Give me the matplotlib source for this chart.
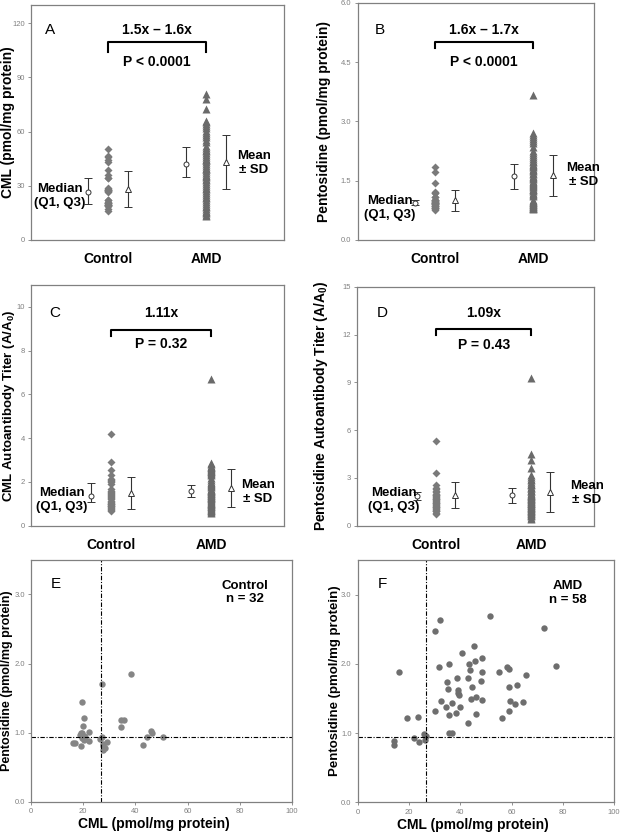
import matplotlib
matplotlib.use("Agg")
import matplotlib.pyplot as plt
import matplotlib.transforms as mtransforms

plt.rcParams['font.family'] = ['Liberation Sans', 'DejaVu Sans']
plt.rcParams['mathtext.fontset'] = 'custom'
plt.rcParams['mathtext.rm'] = 'Liberation Sans:bold'

groups = ['Control', 'AMD']

# E / F scatter: CML vs pentosidine per subject
ctrl_cml = [38.5, 27.1, 19.4, 20.3, 20.0, 22.1, 19.5, 18.8, 20.2, 19.6, 20.4, 22.1,
            16.2, 16.9, 19.3, 26.4, 27.2, 29.0, 27.6, 27.4, 27.6, 34.4, 35.8, 34.4,
            46.1, 46.4, 44.3, 42.9, 50.6, 19.0, 28.3, 20.8]
ctrl_pent = [1.85, 1.71, 1.44, 1.21, 1.10, 1.01, 1.00, 0.97, 0.95, 0.92, 0.90, 0.88,
             0.85, 0.85, 0.81, 0.91, 0.94, 0.86, 0.83, 0.80, 0.75, 1.18, 1.18, 1.08,
             1.02, 0.99, 0.93, 0.82, 0.93, 0.99, 0.78, 0.93]
amd_cml = [16.1, 19.4, 23.7, 22.0, 23.9, 14.3, 14.2, 25.9, 26.3, 30.3, 31.9, 31.7,
           30.0, 32.5, 34.3, 35.5, 35.0, 35.2, 35.5, 35.8, 36.8, 36.7, 38.2, 38.8,
           39.0, 39.1, 39.4, 40.0, 40.7, 42.9, 43.3, 43.0, 43.9, 44.3, 44.7, 45.3,
           45.8, 46.0, 46.3, 48.4, 48.2, 48.5, 48.4, 51.6, 55.1, 56.2, 58.1, 58.9,
           59.2, 59.0, 59.4, 61.4, 62.3, 64.4, 65.5, 72.7, 77.4, 26.5]
amd_pent = [1.88, 1.22, 1.23, 0.93, 0.87, 0.89, 0.82, 0.99, 0.90, 2.47, 2.63, 1.96,
            1.32, 1.46, 1.38, 2.00, 1.74, 1.63, 1.26, 1.00, 1.00, 1.43, 1.29, 1.80,
            1.62, 1.58, 1.55, 1.37, 2.16, 1.80, 1.99, 1.15, 1.91, 1.49, 1.67, 2.25,
            2.04, 1.27, 1.52, 2.08, 1.75, 1.88, 1.47, 2.69, 1.88, 1.21, 1.95, 1.92,
            1.67, 1.32, 1.46, 1.42, 1.70, 1.45, 1.84, 2.52, 1.97, 0.95]

# A / B dot columns
cml_ctrl = ctrl_cml
cml_amd = [81, 78, 72.5, 66, 65, 64, 63, 62, 60.5, 59, 58, 57, 55.5, 54, 52, 51, 50,
           49, 48, 47, 46, 45, 44.5, 44, 43, 42, 41, 40, 39.5, 39, 38, 37, 36, 35.5,
           35, 34, 33, 32, 31, 30, 29, 28, 27, 26, 25, 24, 23, 22, 21, 20, 19, 18,
           17, 16, 15.5, 15, 14, 13.5]
pent_ctrl = ctrl_pent
pent_amd = [3.68, 2.7, 2.65, 2.6, 2.55, 2.5, 2.45, 2.35, 2.25, 2.2, 2.15, 2.1, 2.05,
            2.0, 1.97, 1.93, 1.9, 1.88, 1.85, 1.8, 1.77, 1.74, 1.7, 1.67, 1.63, 1.6,
            1.57, 1.54, 1.5, 1.47, 1.45, 1.42, 1.4, 1.37, 1.34, 1.3, 1.28, 1.26, 1.23,
            1.2, 1.17, 1.15, 1.12, 1.0, 0.98, 0.97, 0.95, 0.93, 0.92, 0.9, 0.88, 0.87,
            0.85, 0.83, 0.82, 0.8, 0.8, 0.79]

# C / D autoantibody titers
cml_ab_ctrl = [4.2, 2.9, 2.55, 2.3, 2.15, 2.05, 2.0, 1.9, 1.7, 1.6, 1.5, 1.45, 1.4,
               1.3, 1.25, 1.2, 1.15, 1.1, 1.05, 1.0, 0.95, 0.9, 0.85, 0.8, 0.75, 0.7,
               0.65, 1.35, 1.55, 1.0, 0.9, 2.1]
cml_ab_amd = [6.7, 2.85, 2.8, 2.75, 2.7, 2.65, 2.6, 2.55, 2.5, 2.45, 2.4, 2.3, 2.2,
              2.1, 2.0, 1.95, 1.9, 1.85, 1.8, 1.75, 1.7, 1.65, 1.6, 1.55, 1.5, 1.45,
              1.4, 1.35, 1.3, 1.25, 1.2, 1.15, 1.1, 1.05, 1.0, 0.95, 0.9, 0.85, 0.8,
              0.75, 0.7, 0.65, 0.6, 1.62, 1.48, 1.33, 1.18, 1.02, 0.88, 0.72, 2.52,
              2.35, 1.58, 1.42, 1.28, 0.98, 0.62, 2.68]
pent_ab_ctrl = [5.3, 3.3, 2.55, 2.4, 2.2, 2.1, 2.0, 1.9, 1.85, 1.8, 1.7, 1.6, 1.55,
                1.5, 1.4, 1.3, 1.2, 1.1, 1.0, 0.9, 0.8, 0.75, 2.3, 1.95, 1.75, 1.65,
                1.45, 1.35, 1.25, 1.15, 1.05, 0.95]
pent_ab_amd = [9.3, 4.5, 4.1, 3.65, 3.2, 3.05, 2.95, 2.85, 2.75, 2.65, 2.55, 2.45,
               2.35, 2.25, 2.15, 2.05, 2.0, 1.95, 1.9, 1.85, 1.8, 1.75, 1.7, 1.65,
               1.6, 1.55, 1.5, 1.45, 1.4, 1.35, 1.3, 1.25, 1.2, 1.15, 1.1, 1.05, 1.0,
               0.95, 0.9, 0.85, 0.8, 0.75, 0.7, 0.6, 0.5, 0.4, 2.4, 2.2, 1.88, 1.72,
               1.58, 1.42, 1.28, 1.12, 0.98, 0.82, 0.65, 2.62]

# summary stats [Control, AMD]
cml_med, cml_q1, cml_q3 = [26.8, 42.3], [19.9, 34.7], [34.5, 51.5]
cml_mean, cml_sd = [28.0, 43.2], [9.9, 15.0]
pent_med, pent_q1, pent_q3 = [0.94, 1.61], [0.88, 1.29], [1.02, 1.92]
pent_mean, pent_sd = [1.0, 1.64], [0.265, 0.52]
cml_ab_med, cml_ab_q1, cml_ab_q3 = [1.34, 1.57], [1.08, 1.31], [1.93, 1.88]
cml_ab_mean, cml_ab_sd = [1.5, 1.71], [0.72, 0.86]
pent_ab_med, pent_ab_q1, pent_ab_q3 = [1.87, 1.93], [1.62, 1.41], [2.12, 2.39]
pent_ab_mean, pent_ab_sd = [1.93, 2.12], [0.8, 1.28]

fold_txt = ['1.5x – 1.6x', '1.6x – 1.7x', '1.11x', '1.09x']
p_txt = ['P < 0.0001', 'P < 0.0001', 'P = 0.32', 'P = 0.43']

GRAY = '#808080'
DOT = '#7a7a7a'
TRI = '#6a6a6a'


def style_axes(ax):
    for s in ax.spines.values():
        s.set_color(GRAY)
        s.set_linewidth(0.9)
    ax.tick_params(axis='both', labelsize=5.5, labelcolor=GRAY, color=GRAY,
                   length=2, width=0.6, pad=2.5)


def dot_panel(ax, ctrl, amd, med, q1, q3, mean, sd, ylim, yticks, fmt, xlim,
              letter, fold, pval, ylabel, lay):
    style_axes(ax)
    ax.plot([1] * len(ctrl), ctrl, 'D', ms=4.0, color=DOT, mec='none')
    ax.plot([2] * len(amd), amd, '^', ms=5.2, color=TRI, mec='none')
    for i in range(2):
        x = i + 1
        ax.errorbar(x - 0.2, med[i], yerr=[[med[i] - q1[i]], [q3[i] - med[i]]],
                    fmt='o', ms=3.6, mfc='white', mec='#333333', mew=0.7,
                    ecolor='#333333', elinewidth=0.8, capsize=3, capthick=0.8)
        ax.errorbar(x + 0.2, mean[i], yerr=sd[i], fmt='^', ms=4.2, mfc='white',
                    mec='#333333', mew=0.7, ecolor='#333333', elinewidth=0.8,
                    capsize=3, capthick=0.8)
    ax.set_xlim(xlim)
    ax.set_ylim(ylim)
    ax.set_yticks(yticks)
    ax.set_yticklabels([fmt % t for t in yticks])
    ax.set_xticks([1, 2])
    ax.set_xticklabels(groups, fontsize=10, fontweight='bold', color='black')
    ax.tick_params(axis='x', length=0, pad=9)
    ax.set_ylabel(ylabel, fontsize=lay.get('ysize', 10), fontweight='bold')
    ax.yaxis.set_label_coords(-lay['ylab'], 0.5)

    tr = mtransforms.blended_transform_factory(ax.transData, ax.transAxes)
    yb, yl = lay['br']
    ax.plot([1, 1, 2, 2], [yl, yb, yb, yl], color='black', lw=1.5,
            transform=tr, clip_on=False)
    ax.text(1.5, lay['fold'], fold, transform=tr, ha='center', va='center',
            fontsize=10, fontweight='bold')
    ax.text(1.5, lay['p'], pval, transform=tr, ha='center', va='center',
            fontsize=10, fontweight='bold')
    ax.text(lay['let'][0], lay['let'][1], letter, transform=ax.transAxes,
            ha='center', va='center', fontsize=11)
    ax.text(lay['med'][0], lay['med'][1], 'Median\n(Q1, Q3)',
            transform=ax.transAxes, ha='center', va='center', fontsize=9.5,
            fontweight='bold', linespacing=1.2)
    ax.text(lay['mean'][0], lay['mean'][1], 'Mean\n± SD', transform=ax.transAxes,
            ha='center', va='center', fontsize=9.5, fontweight='bold',
            linespacing=1.2, clip_on=False)


def scatter_panel(ax, xs, ys, letter, title, col, xlab_x, ylab_x, ysize):
    style_axes(ax)
    ax.plot(xs, ys, 'o', ms=4.6, color=col, mec='none')
    ax.axvline(cml_med[0], color='black', lw=0.8, ls=(0, (4, 1.5, 1, 1.5)))
    ax.axhline(pent_med[0], color='black', lw=0.8, ls=(0, (4, 1.5, 1, 1.5)))
    ax.set_xlim(0, 100)
    ax.set_ylim(0, 3.5)
    ax.set_xticks(range(0, 101, 20))
    ax.set_yticks([0, 1, 2, 3])
    ax.set_yticklabels(['%.1f' % t for t in [0, 1, 2, 3]])
    ax.set_xlabel('CML (pmol/mg protein)', fontsize=10, fontweight='bold')
    ax.xaxis.set_label_coords(xlab_x, -0.065)
    ax.set_ylabel('Pentosidine (pmol/mg protein)', fontsize=ysize,
                  fontweight='bold')
    ax.yaxis.set_label_coords(-ylab_x, 0.5)
    ax.text(0.095, 0.9, letter, transform=ax.transAxes, ha='center',
            va='center', fontsize=11)
    ax.text(0.82, 0.865, title, transform=ax.transAxes, ha='center',
            va='center', fontsize=9.5, fontweight='bold', linespacing=1.2)


fig = plt.figure(figsize=(6.2, 8.33), dpi=100)
axA = fig.add_axes([0.050, 0.7119, 0.408, 0.2821])
axB = fig.add_axes([0.577, 0.7119, 0.381, 0.2845])
axC = fig.add_axes([0.050, 0.3689, 0.408, 0.2890])
axD = fig.add_axes([0.576, 0.3689, 0.382, 0.2866])
axE = fig.add_axes([0.050, 0.0376, 0.421, 0.2902])
axF = fig.add_axes([0.577, 0.0369, 0.4134, 0.2909])

dot_panel(axA, cml_ctrl, cml_amd, cml_med, cml_q1, cml_q3, cml_mean, cml_sd,
          (0, 130), [0, 30, 60, 90, 120], '%d', (0.214, 2.796), 'A',
          fold_txt[0], p_txt[0], 'CML (pmol/mg protein)',
          dict(ylab=0.065, br=(0.844, 0.801), fold=0.894, p=0.759,
               let=(0.075, 0.894), med=(0.115, 0.187), mean=(0.881, 0.328)))
dot_panel(axB, pent_ctrl, pent_amd, pent_med, pent_q1, pent_q3, pent_mean,
          pent_sd, (0, 6), [0, 1.5, 3.0, 4.5, 6.0], '%.1f', (0.211, 2.62), 'B',
          fold_txt[1], p_txt[1], 'Pentosidine (pmol/mg protein)',
          dict(ylab=0.115, br=(0.837, 0.809), fold=0.886, p=0.752,
               let=(0.094, 0.886), med=(0.137, 0.134), mean=(0.954, 0.274)))
dot_panel(axC, cml_ab_ctrl, cml_ab_amd, cml_ab_med, cml_ab_q1, cml_ab_q3,
          cml_ab_mean, cml_ab_sd, (0, 11), [0, 2, 4, 6, 8, 10], '%d',
          (0.2, 2.73), 'C', fold_txt[2], p_txt[2],
          'CML Autoantibody Titer (A/A$_0$)',
          dict(ylab=0.056, ysize=9.5, br=(0.813, 0.788), fold=0.882, p=0.754,
               let=(0.095, 0.882), med=(0.123, 0.107), mean=(0.897, 0.141)))
dot_panel(axD, pent_ab_ctrl, pent_ab_amd, pent_ab_med, pent_ab_q1, pent_ab_q3,
          pent_ab_mean, pent_ab_sd, (0, 15), [0, 3, 6, 9, 12, 15], '%d',
          (0.168, 2.66), 'D', fold_txt[3], p_txt[3],
          'Pentosidine Autoantibody Titer (A/A$_0$)',
          dict(ylab=0.113, br=(0.826, 0.80), fold=0.89, p=0.758,
               let=(0.106, 0.89), med=(0.155, 0.107), mean=(0.97, 0.137)))

scatter_panel(axE, ctrl_cml, ctrl_pent, 'E', 'Control\nn = 32', '#858585',
              0.47, 0.068, 9)
scatter_panel(axF, amd_cml, amd_pent, 'F', 'AMD\nn = 58', '#6e6e6e',
              0.45, 0.065, 9.5)

fig.savefig('out.png', dpi=100)
